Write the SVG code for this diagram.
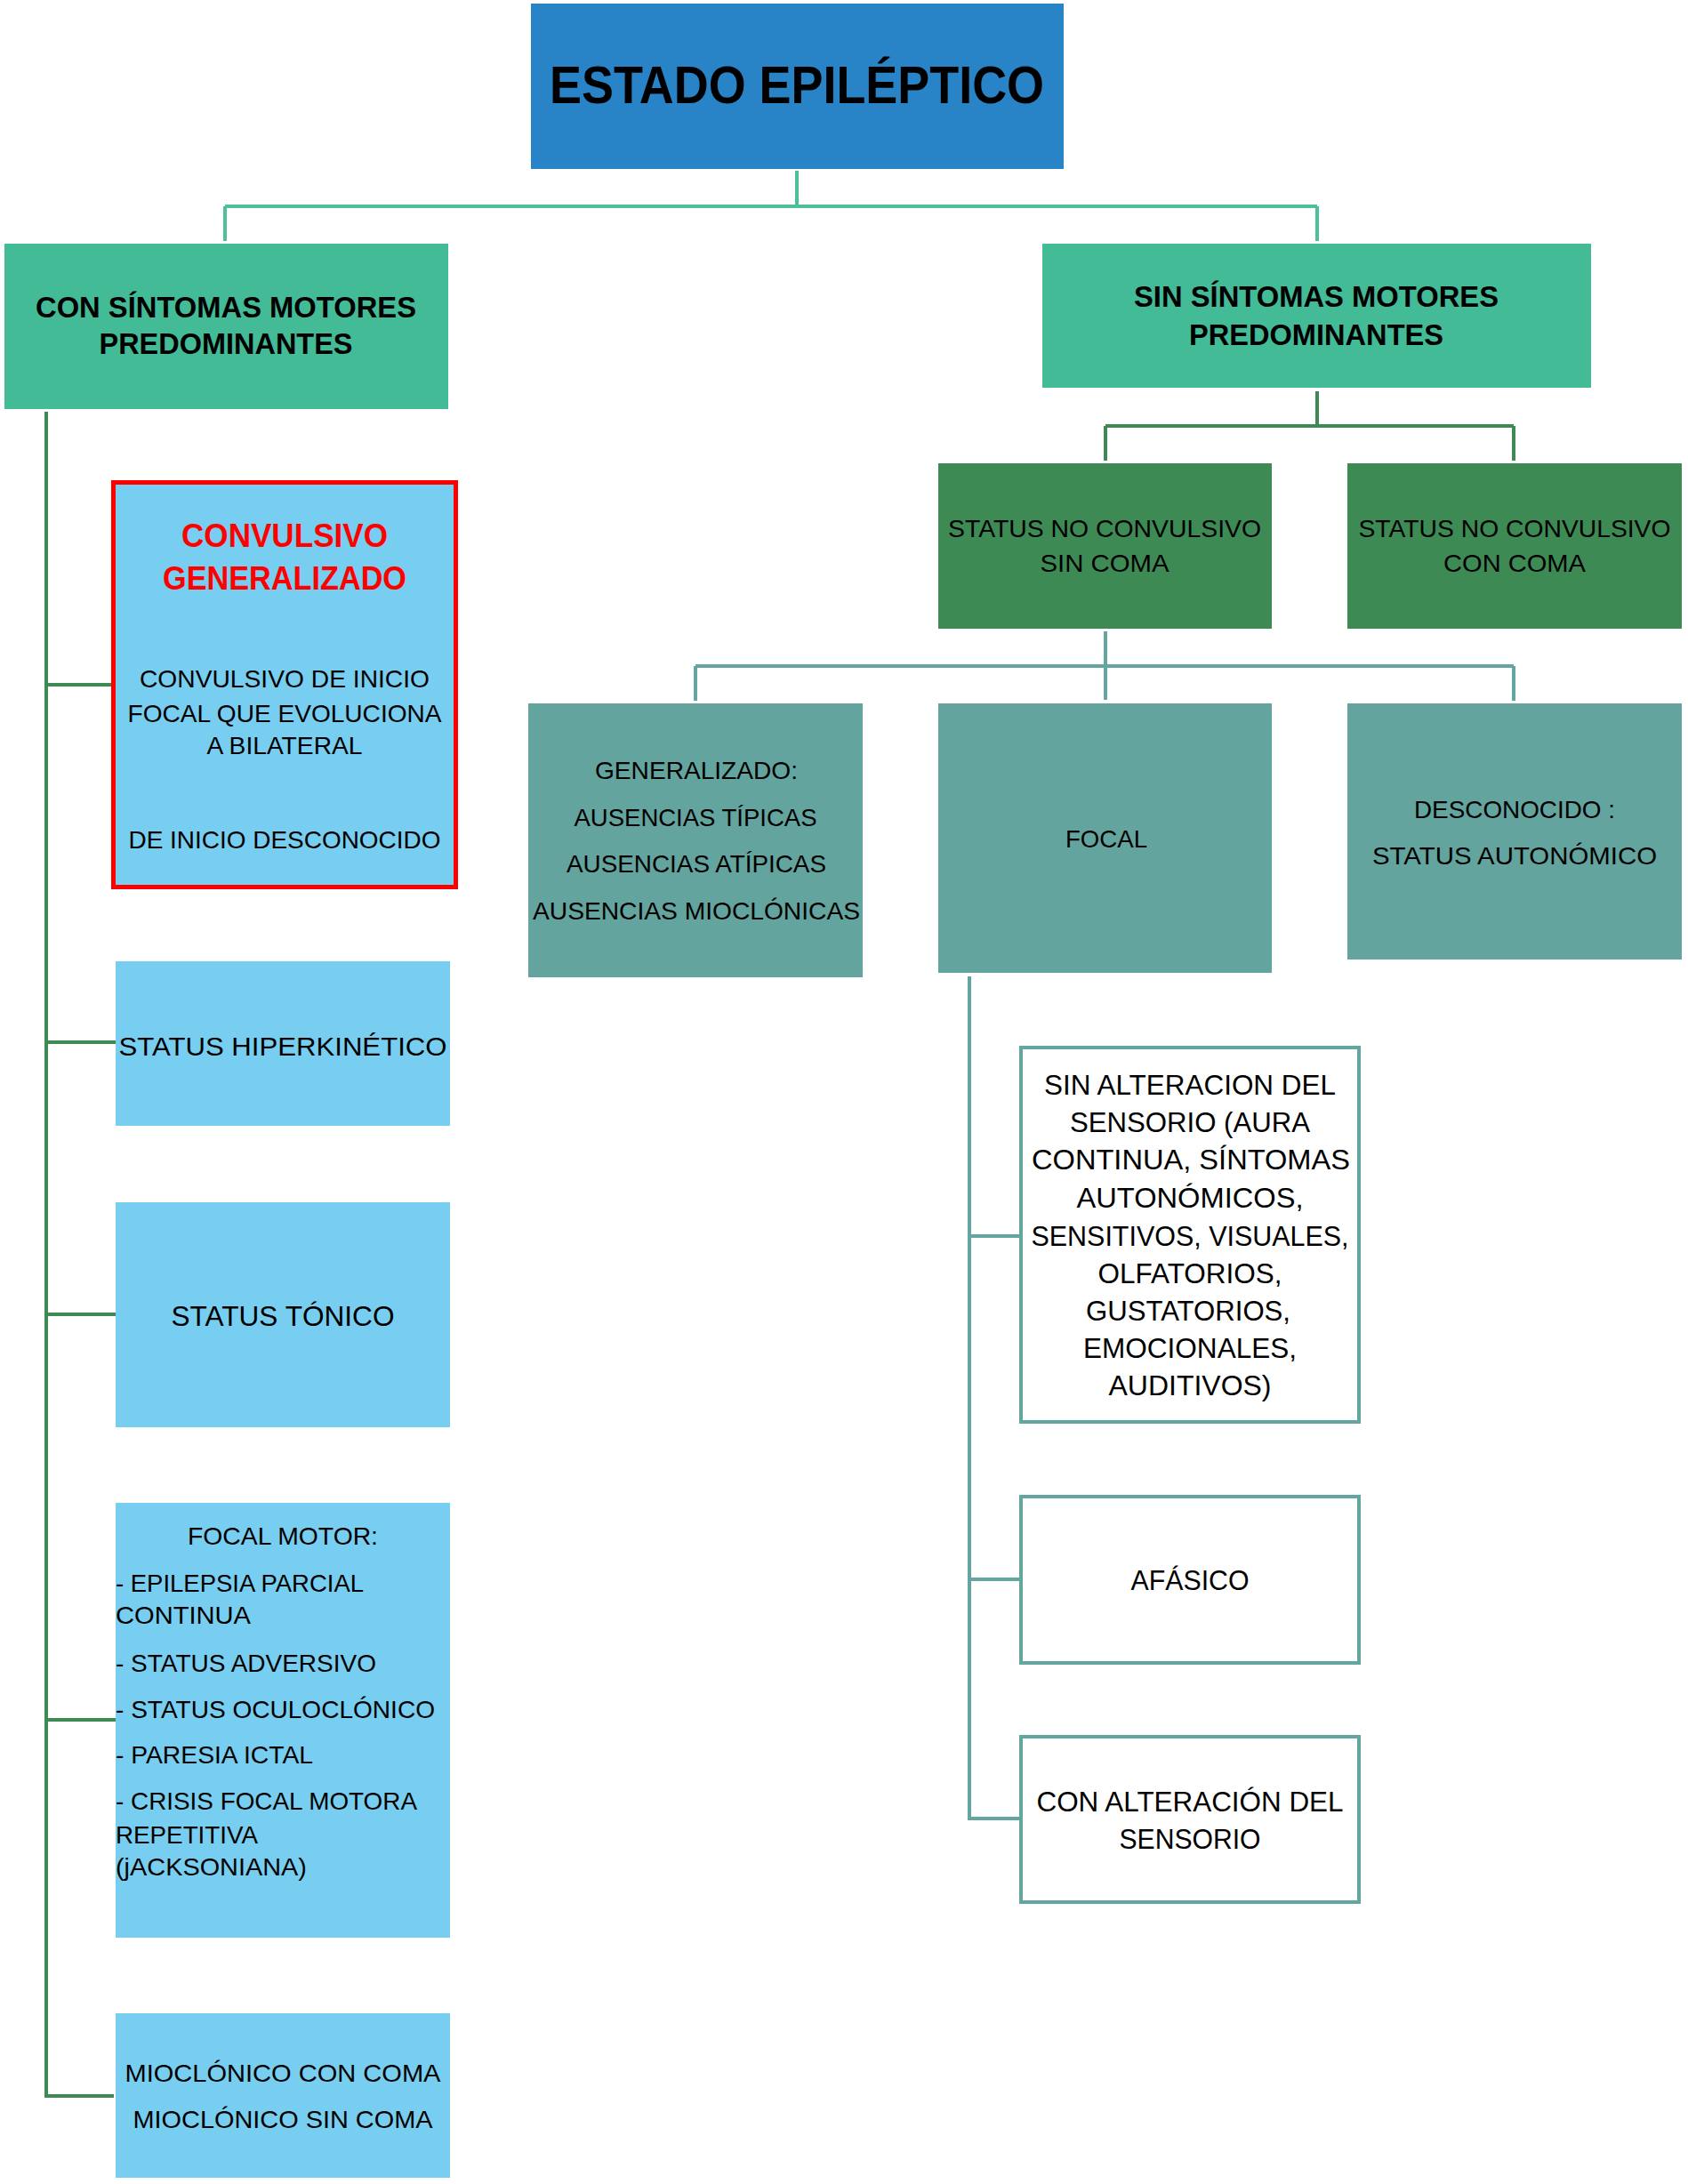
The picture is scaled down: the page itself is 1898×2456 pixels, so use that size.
<svg xmlns="http://www.w3.org/2000/svg" width="1898" height="2456" viewBox="0 0 1898 2456">
<style>
text { font-family: "Liberation Sans", Arial, sans-serif; fill: #000; }
.c { text-anchor: middle; }
.s34 { font-size: 28.5px; }
.s38 { font-size: 32px; }
.b { font-weight: bold; }
.lg { stroke: #4DBF99; stroke-width: 4; fill: none; }
.dg { stroke: #3E8A55; stroke-width: 4; fill: none; }
.tl { stroke: #63A59F; stroke-width: 4; fill: none; }
.blue { fill: #78CEF0; }
.teal { fill: #63A49E; }
.dark { fill: #3E8A55; }
.mid { fill: #44BB97; }
.wbox { fill: #FFFFFF; stroke: #63A59F; stroke-width: 4; }
</style>
<rect width="1898" height="2456" fill="#FFFFFF"/>
<g id="connectors">
<path class="lg" d="M896 192 V232 M253 232 H1481 M253 232 V271 M1481 232 V271"/>
<path class="dg" d="M1481 440 V479 M1243 479 H1702 M1243 479 V518 M1702 479 V518"/>
<path class="tl" d="M1243 710 V787 M782 749 H1702 M782 749 V788 M1702 749 V788"/>
<path class="dg" d="M52 463 V2357 H128 M52 770 H127 M52 1172 H130 M52 1478 H130 M52 1934 H130"/>
<path class="tl" d="M1090 1098 V2045 H1148 M1090 1390 H1148 M1090 1776 H1148"/>
</g>
<g id="root">
<rect x="597" y="4" width="599" height="186" fill="#2883C7"/>
<text class="c b" x="896" y="116" font-size="60" textLength="556" lengthAdjust="spacingAndGlyphs">ESTADO EPILÉPTICO</text>
</g>
<g id="con-sintomas">
<rect class="mid" x="5" y="274" width="499" height="186"/>
<text class="c b" x="254" y="357" font-size="34" textLength="428" lengthAdjust="spacingAndGlyphs">CON SÍNTOMAS MOTORES</text>
<text class="c b" x="254" y="398" font-size="34" textLength="285" lengthAdjust="spacingAndGlyphs">PREDOMINANTES</text>
</g>
<g id="sin-sintomas">
<rect class="mid" x="1172" y="274" width="617" height="162"/>
<text class="c b" x="1480" y="345" font-size="34" textLength="410" lengthAdjust="spacingAndGlyphs">SIN SÍNTOMAS MOTORES</text>
<text class="c b" x="1480" y="388" font-size="34" textLength="286" lengthAdjust="spacingAndGlyphs">PREDOMINANTES</text>
</g>
<g id="nc-sin-coma">
<rect class="dark" x="1055" y="521" width="375" height="186"/>
<text class="c s34" x="1242" y="604" textLength="352" lengthAdjust="spacingAndGlyphs">STATUS NO CONVULSIVO</text>
<text class="c s34" x="1242" y="643" textLength="145" lengthAdjust="spacingAndGlyphs">SIN COMA</text>
</g>
<g id="nc-con-coma">
<rect class="dark" x="1515" y="521" width="376" height="186"/>
<text class="c s34" x="1703" y="604" textLength="351" lengthAdjust="spacingAndGlyphs">STATUS NO CONVULSIVO</text>
<text class="c s34" x="1703" y="643" textLength="160" lengthAdjust="spacingAndGlyphs">CON COMA</text>
</g>
<g id="generalizado">
<rect class="teal" x="594" y="791" width="376" height="308"/>
<text class="c s34" x="783" y="876" textLength="228" lengthAdjust="spacingAndGlyphs">GENERALIZADO:</text>
<text class="c s34" x="782" y="929" textLength="273" lengthAdjust="spacingAndGlyphs">AUSENCIAS TÍPICAS</text>
<text class="c s34" x="783" y="981" textLength="292" lengthAdjust="spacingAndGlyphs">AUSENCIAS ATÍPICAS</text>
<text class="c s34" x="783" y="1034" textLength="368" lengthAdjust="spacingAndGlyphs">AUSENCIAS MIOCLÓNICAS</text>
</g>
<g id="focal">
<rect class="teal" x="1055" y="791" width="375" height="303"/>
<text class="c s34" x="1244" y="953" textLength="92" lengthAdjust="spacingAndGlyphs">FOCAL</text>
</g>
<g id="desconocido">
<rect class="teal" x="1515" y="791" width="376" height="288"/>
<text class="c s34" x="1703" y="920" textLength="226" lengthAdjust="spacingAndGlyphs">DESCONOCIDO :</text>
<text class="c s34" x="1703" y="972" textLength="320" lengthAdjust="spacingAndGlyphs">STATUS AUTONÓMICO</text>
</g>
<g id="convulsivo-generalizado">
<rect class="blue" x="127.5" y="542.5" width="385" height="455" stroke="#FF0000" stroke-width="5"/>
<text class="c b" x="320" y="615" font-size="37.5" style="fill:#FF0000" textLength="232" lengthAdjust="spacingAndGlyphs">CONVULSIVO</text>
<text class="c b" x="320" y="663" font-size="37.5" style="fill:#FF0000" textLength="274" lengthAdjust="spacingAndGlyphs">GENERALIZADO</text>
<text class="c s34" x="320" y="773" textLength="326" lengthAdjust="spacingAndGlyphs">CONVULSIVO DE INICIO</text>
<text class="c s34" x="320" y="812" textLength="353" lengthAdjust="spacingAndGlyphs">FOCAL QUE EVOLUCIONA</text>
<text class="c s34" x="320" y="848" textLength="175" lengthAdjust="spacingAndGlyphs">A BILATERAL</text>
<text class="c s34" x="320" y="954" textLength="351" lengthAdjust="spacingAndGlyphs">DE INICIO DESCONOCIDO</text>
</g>
<g id="hiperkinetico">
<rect class="blue" x="130" y="1081" width="376" height="185"/>
<text class="c" x="318" y="1187" font-size="30" textLength="369" lengthAdjust="spacingAndGlyphs">STATUS HIPERKINÉTICO</text>
</g>
<g id="tonico">
<rect class="blue" x="130" y="1352" width="376" height="253"/>
<text class="c s38" x="318" y="1491" textLength="251" lengthAdjust="spacingAndGlyphs">STATUS TÓNICO</text>
</g>
<g id="focal-motor">
<rect class="blue" x="130" y="1690" width="376" height="489"/>
<text class="c s34" x="318" y="1737" textLength="214" lengthAdjust="spacingAndGlyphs">FOCAL MOTOR:</text>
<text class="s34" x="130" y="1790" textLength="279" lengthAdjust="spacingAndGlyphs">- EPILEPSIA PARCIAL</text>
<text class="s34" x="130" y="1826" textLength="152" lengthAdjust="spacingAndGlyphs">CONTINUA</text>
<text class="s34" x="130" y="1880" textLength="293" lengthAdjust="spacingAndGlyphs">- STATUS ADVERSIVO</text>
<text class="s34" x="130" y="1932" textLength="359" lengthAdjust="spacingAndGlyphs">- STATUS OCULOCLÓNICO</text>
<text class="s34" x="130" y="1983" textLength="222" lengthAdjust="spacingAndGlyphs">- PARESIA ICTAL</text>
<text class="s34" x="130" y="2035" textLength="339" lengthAdjust="spacingAndGlyphs">- CRISIS FOCAL MOTORA</text>
<text class="s34" x="130" y="2073" textLength="160" lengthAdjust="spacingAndGlyphs">REPETITIVA</text>
<text class="s34" x="130" y="2109" textLength="215" lengthAdjust="spacingAndGlyphs">(jACKSONIANA)</text>
</g>
<g id="mioclonico">
<rect class="blue" x="130" y="2264" width="376" height="185"/>
<text class="c s34" x="318" y="2341" textLength="355" lengthAdjust="spacingAndGlyphs">MIOCLÓNICO CON COMA</text>
<text class="c s34" x="318" y="2393" textLength="337" lengthAdjust="spacingAndGlyphs">MIOCLÓNICO SIN COMA</text>
</g>
<g id="sin-alteracion">
<rect class="wbox" x="1148" y="1178" width="380" height="421"/>
<text class="c s38" x="1338" y="1231" textLength="328" lengthAdjust="spacingAndGlyphs">SIN ALTERACION DEL</text>
<text class="c s38" x="1338" y="1273" textLength="270" lengthAdjust="spacingAndGlyphs">SENSORIO (AURA</text>
<text class="c s38" x="1339" y="1315" textLength="358" lengthAdjust="spacingAndGlyphs">CONTINUA, SÍNTOMAS</text>
<text class="c s38" x="1338" y="1358" textLength="255" lengthAdjust="spacingAndGlyphs">AUTONÓMICOS,</text>
<text class="c" x="1338" y="1401" font-size="31" textLength="357" lengthAdjust="spacingAndGlyphs">SENSITIVOS, VISUALES,</text>
<text class="c s38" x="1338" y="1443" textLength="207" lengthAdjust="spacingAndGlyphs">OLFATORIOS,</text>
<text class="c s38" x="1336" y="1485" textLength="230" lengthAdjust="spacingAndGlyphs">GUSTATORIOS,</text>
<text class="c s38" x="1338" y="1527" textLength="240" lengthAdjust="spacingAndGlyphs">EMOCIONALES,</text>
<text class="c s38" x="1338" y="1569" textLength="183" lengthAdjust="spacingAndGlyphs">AUDITIVOS)</text>
</g>
<g id="afasico">
<rect class="wbox" x="1148" y="1683" width="380" height="187"/>
<text class="c s38" x="1338" y="1788" textLength="133" lengthAdjust="spacingAndGlyphs">AFÁSICO</text>
</g>
<g id="con-alteracion">
<rect class="wbox" x="1148" y="1953" width="380" height="186"/>
<text class="c s38" x="1338" y="2037" textLength="345" lengthAdjust="spacingAndGlyphs">CON ALTERACIÓN DEL</text>
<text class="c s38" x="1338" y="2079" textLength="159" lengthAdjust="spacingAndGlyphs">SENSORIO</text>
</g>
</svg>
